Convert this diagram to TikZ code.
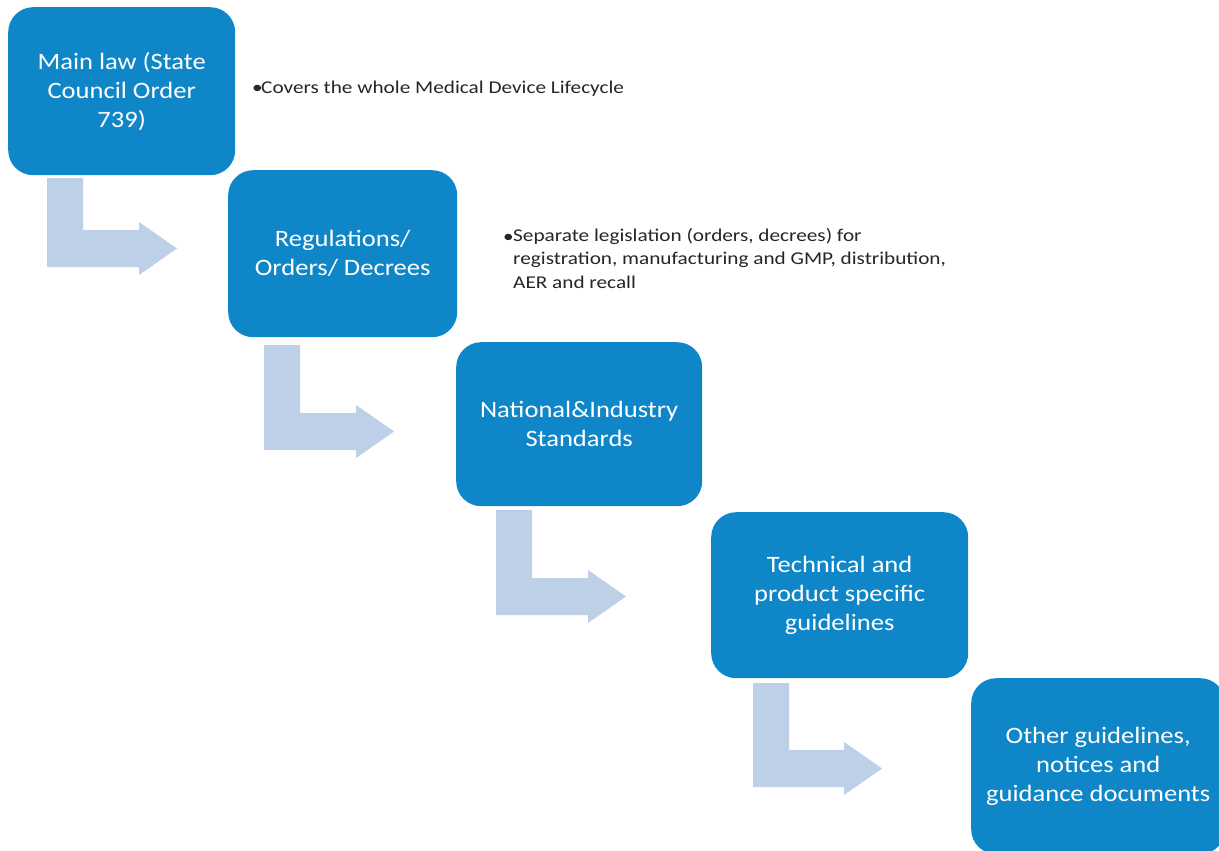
\documentclass[tikz,border=0pt]{standalone}
\usepackage{fontspec}
\setmainfont{Carlito}
\newfontfamily\boxfont{Carlito}[FakeStretch=1.13]
\newfontfamily\notefont{Carlito}[FakeStretch=1.18]
\definecolor{boxblue}{HTML}{0E86C8}
\definecolor{arrblue}{HTML}{BDD0E8}
\definecolor{txt}{HTML}{262626}
\newcommand\bentarr[4]{% x-left, y-top, bar-bottom, head-base
  \fill[arrblue] (#1,#2) -- (#1+36,#2) -- (#1+36,#3-37) -- (#4,#3-37) -- (#4,#3-45)
    -- (#4+38,#3-18.5) -- (#4,#3+8) -- (#4,#3) -- (#1,#3) -- cycle;}
\begin{document}
\begin{tikzpicture}[x=1pt,y=-1pt,
  box/.style={fill=boxblue, rounded corners=25pt, anchor=north west, text=white,
    align=center, inner sep=0pt, font=\boxfont\fontsize{23.5}{29}\selectfont},
  note/.style={text=txt, anchor=base west, inner sep=0pt, align=left,
    font=\notefont\fontsize{18}{23.5}\selectfont}]
\clip (0,0) rectangle (1219,851);
\fill[white] (0,0) rectangle (1219,851);
% boxes
\node[box, minimum width=227pt, minimum height=168pt] (b1) at (8,7)
  {Main law (State\\Council Order\\739)};
\node[box, minimum width=229pt, minimum height=167pt] (b2) at (228,170)
  {Regulations/\\Orders/ Decrees};
\node[box, minimum width=246pt, minimum height=164pt] (b3) at (456,342)
  {National\&Industry\\Standards};
\node[box, minimum width=257pt, minimum height=166pt] (b4) at (711,512)
  {Technical and\\product specific\\guidelines};
\node[box, minimum width=254pt, minimum height=176pt] (b5) at (971,678)
  {Other guidelines,\\notices and\\guidance documents};
% notes
\node[note] (d1) at (252,93.5) {\textbullet};
\node[note] (n1) at (261,93.5) {Covers the whole Medical Device Lifecycle};
\node[note] (d2) at (503,242) {\textbullet};
\node[note, anchor=north west] (n2) at (513,228)
  {Separate legislation (orders, decrees) for\\registration, manufacturing and GMP, distribution,\\AER and recall};
% bent arrows
\bentarr{47}{178}{267}{139}
\bentarr{264}{345}{450}{356}
\bentarr{496}{510}{615}{588}
\bentarr{753}{683}{787}{844}
\end{tikzpicture}
\end{document}
